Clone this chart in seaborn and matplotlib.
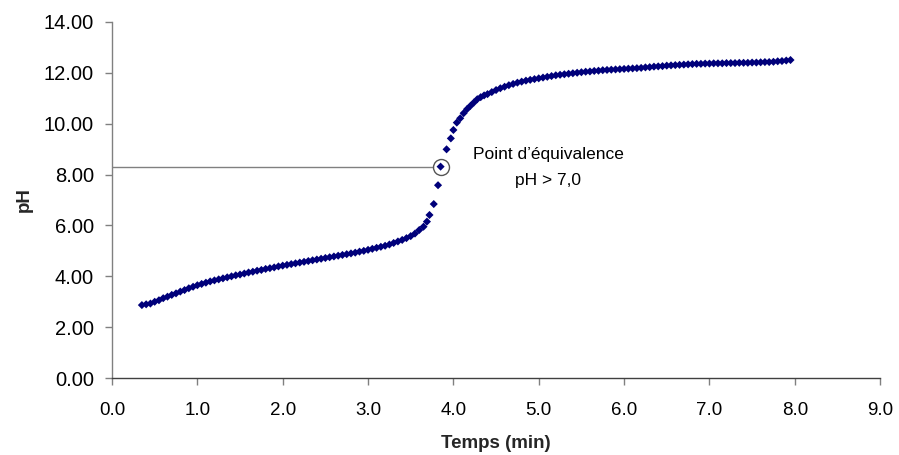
import matplotlib
matplotlib.use("Agg")
import matplotlib.pyplot as plt
from matplotlib import font_manager
import seaborn as sns
import pandas as pd

temps = [0.35, 0.40, 0.45, 0.50, 0.55, 0.60, 0.65, 0.70, 0.75, 0.80, 0.85, 0.90, 0.95,
         1.00, 1.05, 1.10, 1.15, 1.20, 1.25, 1.30, 1.35, 1.40, 1.45, 1.50, 1.55, 1.60,
         1.65, 1.70, 1.75, 1.80, 1.85, 1.90, 1.95, 2.00, 2.05, 2.10, 2.15, 2.20, 2.25,
         2.30, 2.35, 2.40, 2.45, 2.50, 2.55, 2.60, 2.65, 2.70, 2.75, 2.80, 2.85, 2.90,
         2.95, 3.00, 3.05, 3.10, 3.15, 3.20, 3.25, 3.30, 3.35, 3.40, 3.45, 3.50, 3.55,
         3.60, 3.65, 3.69, 3.72, 3.77, 3.82, 3.85, 3.92, 3.97, 4.00, 4.04, 4.08, 4.12,
         4.16, 4.20, 4.24, 4.28, 4.32, 4.36, 4.40, 4.45, 4.50, 4.55, 4.60, 4.65, 4.70,
         4.75, 4.80, 4.85, 4.90, 4.95, 5.00, 5.05, 5.10, 5.15, 5.20, 5.25, 5.30, 5.35,
         5.40, 5.45, 5.50, 5.55, 5.60, 5.65, 5.70, 5.75, 5.80, 5.85, 5.90, 5.95, 6.00,
         6.05, 6.10, 6.15, 6.20, 6.25, 6.30, 6.35, 6.40, 6.45, 6.50, 6.55, 6.60, 6.65,
         6.70, 6.75, 6.80, 6.85, 6.90, 6.95, 7.00, 7.05, 7.10, 7.15, 7.20, 7.25, 7.30,
         7.35, 7.40, 7.45, 7.50, 7.55, 7.60, 7.65, 7.70, 7.75, 7.80, 7.85, 7.90, 7.95]

ph = [2.87, 2.90, 2.93, 3.00, 3.06, 3.14, 3.20, 3.27, 3.33, 3.40, 3.46, 3.53, 3.59,
      3.65, 3.70, 3.75, 3.80, 3.84, 3.88, 3.92, 3.96, 4.00, 4.04, 4.07, 4.11, 4.15,
      4.18, 4.22, 4.25, 4.29, 4.32, 4.35, 4.39, 4.42, 4.45, 4.48, 4.51, 4.54, 4.57,
      4.60, 4.63, 4.66, 4.69, 4.72, 4.75, 4.78, 4.81, 4.84, 4.87, 4.90, 4.93, 4.97,
      5.00, 5.04, 5.08, 5.12, 5.16, 5.20, 5.25, 5.31, 5.37, 5.43, 5.50, 5.58, 5.68,
      5.82, 5.95, 6.15, 6.41, 6.84, 7.58, 8.31, 8.99, 9.42, 9.75, 10.04, 10.21, 10.41,
      10.57, 10.70, 10.83, 10.96, 11.04, 11.11, 11.16, 11.24, 11.32, 11.39, 11.45, 11.51, 11.56,
      11.61, 11.65, 11.69, 11.72, 11.75, 11.78, 11.81, 11.84, 11.87, 11.90, 11.92, 11.94, 11.96,
      11.98, 12.00, 12.02, 12.04, 12.05, 12.07, 12.08, 12.10, 12.11, 12.12, 12.13, 12.14, 12.15,
      12.16, 12.17, 12.18, 12.19, 12.21, 12.22, 12.24, 12.25, 12.26, 12.28, 12.29, 12.30, 12.31,
      12.32, 12.33, 12.34, 12.35, 12.35, 12.36, 12.36, 12.37, 12.37, 12.37, 12.38, 12.38, 12.38,
      12.39, 12.39, 12.39, 12.40, 12.40, 12.41, 12.42, 12.42, 12.43, 12.45, 12.46, 12.48, 12.50]

x_ticks = [0, 1, 2, 3, 4, 5, 6, 7, 8, 9]
y_ticks = [0, 2, 4, 6, 8, 10, 12, 14]
equiv_t = 3.85
equiv_ph = 8.31
annot_lines = ["Point d\u2019équivalence", "pH > 7,0"]

sns.set_theme(style="white")
available = {f.name for f in font_manager.fontManager.ttflist}
base_font = "Liberation Sans"
narrow_font = "Liberation Sans Narrow" if "Liberation Sans Narrow" in available else base_font
plt.rcParams["font.family"] = [base_font, "DejaVu Sans"]

df = pd.DataFrame({"Temps": temps, "pH": ph})

fig = plt.figure(figsize=(8.99, 4.55), dpi=100)
ax = fig.add_axes([0.1246, 0.169, 0.8544, 0.783])

sns.scatterplot(data=df, x="Temps", y="pH", ax=ax, marker="D", s=17,
                color="#00007a", edgecolor="none", linewidth=0, zorder=3)

gray = "#808080"
ax.plot([0, equiv_t - 0.09], [equiv_ph, equiv_ph], color=gray, lw=1.0, zorder=2)
ax.plot([equiv_t], [equiv_ph], marker="o", ms=11.5, mfc="none", mec="#555555",
        mew=1.0, zorder=4)

ax.text(5.11, 8.77, annot_lines[0], ha="center", va="center", fontsize=12.5,
        color="black", family=[base_font, "DejaVu Sans"])
ax.text(5.11, 7.75, annot_lines[1], ha="center", va="center", fontsize=12.5,
        color="black", family=[base_font, "DejaVu Sans"])

ax.set_xlim(0, 9)
ax.set_ylim(0, 14)
ax.set_xticks(x_ticks)
ax.set_yticks(y_ticks)
ax.set_xticklabels([f"{v:.1f}" for v in x_ticks], fontsize=13.5,
                   family=[narrow_font, "DejaVu Sans"])
ax.set_yticklabels([f"{v:.2f}" for v in y_ticks], fontsize=14.5)

for side in ["top", "right"]:
    ax.spines[side].set_visible(False)
for side in ["left", "bottom"]:
    ax.spines[side].set_color(gray)
    ax.spines[side].set_linewidth(1.0)
ax.spines["bottom"].set_color("#404040")
ax.tick_params(axis="both", which="both", direction="out", length=5, width=1.0,
               color=gray, labelcolor="black", left=True, bottom=True)
ax.tick_params(axis="x", pad=12)
ax.tick_params(axis="y", pad=8)

ax.set_xlabel("Temps (min)", fontsize=13.5, fontweight="bold", labelpad=12,
              family=[narrow_font, "DejaVu Sans"])
ax.set_ylabel("pH", fontsize=13.5, fontweight="bold", labelpad=8)
ax.grid(False)

fig.savefig("out.png", dpi=100)
